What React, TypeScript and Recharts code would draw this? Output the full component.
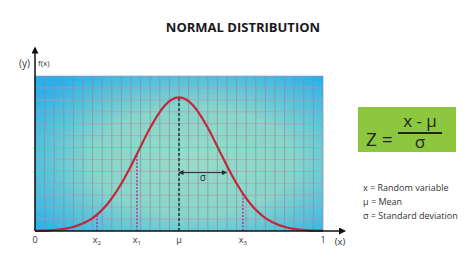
import React from 'react';
import {
  ComposedChart,
  Line,
  XAxis,
  YAxis,
  CartesianGrid,
  ReferenceLine,
  ReferenceDot,
} from 'recharts';

// bell curve (x from 0 to 1, peak height = 1)
const curveX = [
  0, 0.025, 0.05, 0.075, 0.1, 0.125, 0.15, 0.175, 0.2, 0.225, 0.25, 0.275, 0.3, 0.325,
  0.35, 0.375, 0.4, 0.425, 0.45, 0.475, 0.5, 0.525, 0.55, 0.575, 0.6, 0.625, 0.65,
  0.675, 0.7, 0.725, 0.75, 0.775, 0.8, 0.825, 0.85, 0.875, 0.9, 0.925, 0.95, 0.975, 1,
];
const curveY = [
  0.0015, 0.0029, 0.0053, 0.0093, 0.0159, 0.0263, 0.042, 0.065, 0.097, 0.141, 0.198,
  0.27, 0.355, 0.453, 0.559, 0.668, 0.772, 0.864, 0.937, 0.984, 1, 0.984, 0.937, 0.864,
  0.772, 0.668, 0.559, 0.453, 0.355, 0.27, 0.198, 0.141, 0.097, 0.065, 0.042, 0.0263,
  0.0159, 0.0093, 0.0053, 0.0029, 0.0015,
];

// x axis labels
const tickValues = [0, 0.215, 0.354, 0.5, 0.722, 1];
const tickNames = ['0', 'x', 'x', 'μ', 'x', '1'];
const tickSubs = ['', '2', '1', '', '3', ''];

// dashed drop lines for x2, x1, x3
const markerX = [0.215, 0.354, 0.722];
const markerY = [0.124, 0.57, 0.28];

// sigma span
const sigmaFrom = 0.5;
const sigmaTo = 0.665;
const sigmaLevel = 0.437;

const legendLines = ['x = Random variable', 'μ = Mean', 'σ = Standard deviation'];

const gridCols = 30;
const gridRows = 13;

const data = curveX.map((x, i) => ({ x, y: curveY[i] }));

const font = '"Open Sans", Arial, sans-serif';

function renderTick(props: any) {
  const { x, y, payload } = props;
  const i = tickValues.indexOf(payload.value);
  return (
    <g>
      <text x={x} y={y} dy={4} textAnchor="middle" fontSize={9} fill="#333" fontFamily={font}>
        {tickNames[i]}
        {tickSubs[i] ? (
          <tspan fontSize={6} dy={2}>
            {tickSubs[i]}
          </tspan>
        ) : null}
      </text>
      {payload.value === 1 ? (
        <text x={x + 17} y={y} dy={6} textAnchor="middle" fontSize={9.5} fill="#333" fontFamily={font}>
          (x)
        </text>
      ) : null}
    </g>
  );
}

export default function App() {
  return (
    <div style={{ position: 'fixed', left: 0, top: 0, width: 474, height: 264, background: '#fff', fontFamily: font }}>
      <div
        style={{
          position: 'absolute',
          left: 143,
          top: 19,
          width: 200,
          textAlign: 'center',
          fontSize: 13,
          fontWeight: 700,
          lineHeight: '16px',
          color: '#1a1a1a',
        }}
      >
        NORMAL DISTRIBUTION
      </div>
      <div style={{ position: 'absolute', left: 19, top: 56, fontSize: 10, color: '#333' }}>(y)</div>
      <div style={{ position: 'absolute', left: 38, top: 57, fontSize: 8, color: '#333' }}>f(x)</div>

      <ComposedChart
        width={474}
        height={264}
        data={data}
        margin={{ top: 76, left: 35, right: 151, bottom: 13 }}
      >
        <defs>
          <radialGradient id="bg" cx="0.55" cy="0.55" r="0.7">
            <stop offset="0" stopColor="#98dcc5" />
            <stop offset="0.5" stopColor="#86d6ca" />
            <stop offset="1" stopColor="#27b0ea" />
          </radialGradient>
          <marker
            id="arrowHead"
            viewBox="0 0 10 10"
            refX="8"
            refY="5"
            markerWidth="7"
            markerHeight="7"
            markerUnits="userSpaceOnUse"
            orient="auto-start-reverse"
          >
            <path d="M0,0 L10,5 L0,10 z" fill="#111" />
          </marker>
          <marker
            id="smallHead"
            viewBox="0 0 10 10"
            refX="9"
            refY="5"
            markerWidth="5"
            markerHeight="5"
            markerUnits="userSpaceOnUse"
            orient="auto-start-reverse"
          >
            <path d="M0,0 L10,5 L0,10 z" fill="#1d2f33" />
          </marker>
        </defs>
        <CartesianGrid
          vertical={false}
          fill="url(#bg)"
          fillOpacity={1}
          stroke="#c48fb4"
          strokeOpacity={0.65}
          horizontalCoordinatesGenerator={({ offset }: any) =>
            Array.from({ length: gridRows }, (_, i) => offset.top + (i * offset.height) / gridRows)
          }
        />
        <CartesianGrid
          horizontal={false}
          stroke="#8f86a8"
          strokeOpacity={0.65}
          verticalCoordinatesGenerator={({ offset }: any) =>
            Array.from({ length: gridCols + 1 }, (_, i) => offset.left + (i * offset.width) / gridCols)
          }
        />
        <XAxis
          type="number"
          dataKey="x"
          domain={[0, 1]}
          ticks={tickValues}
          interval={0}
          tick={renderTick}
          axisLine={false}
          tickLine={false}
          height={20}
        />
        <YAxis type="number" domain={[0, 1.16]} hide />

        <ReferenceLine
          segment={[{ x: 0.5, y: 0 }, { x: 0.5, y: 1 }]}
          stroke="#1d3a40"
          strokeWidth={1.5}
          strokeDasharray="3 2"
          ifOverflow="visible"
        />
        {markerX.map((mx, i) => (
          <ReferenceLine
            key={i}
            segment={[{ x: mx, y: 0 }, { x: mx, y: markerY[i] }]}
            stroke="#a53c9f"
            strokeWidth={1.5}
            strokeDasharray="2 1.5"
            ifOverflow="visible"
          />
        ))}
        <ReferenceLine
          segment={[{ x: sigmaFrom, y: sigmaLevel }, { x: sigmaTo, y: sigmaLevel }]}
          stroke="#1d2f33"
          strokeWidth={1}
          markerStart="url(#smallHead)"
          markerEnd="url(#smallHead)"
          ifOverflow="visible"
        />
        <ReferenceDot
          x={(sigmaFrom + sigmaTo) / 2}
          y={sigmaLevel}
          r={0}
          stroke="none"
          label={{ value: 'σ', position: 'bottom', offset: 1, fontSize: 10, fill: '#1d2f33', fontFamily: font }}
          ifOverflow="visible"
        />

        <Line
          type="monotone"
          dataKey="y"
          stroke="#c4273b"
          strokeWidth={2.2}
          dot={false}
          isAnimationActive={false}
        />

        <ReferenceLine
          segment={[{ x: 0, y: 0 }, { x: 0, y: 1.37 }]}
          stroke="#111"
          strokeWidth={1.5}
          markerEnd="url(#arrowHead)"
          ifOverflow="visible"
        />
        <ReferenceLine
          segment={[{ x: 0, y: 0 }, { x: 1.075, y: 0 }]}
          stroke="#111"
          strokeWidth={1.5}
          markerEnd="url(#arrowHead)"
          ifOverflow="visible"
        />
      </ComposedChart>

      <div
        style={{
          position: 'absolute',
          left: 358,
          top: 107,
          width: 98,
          height: 45,
          background: '#8dc63f',
          color: '#1e261b',
        }}
      >
        <div style={{ position: 'absolute', left: 8, top: 22, fontSize: 19, lineHeight: '20px' }}>Z =</div>
        <div
          style={{
            position: 'absolute',
            left: 40,
            top: 5,
            width: 44,
            textAlign: 'center',
            fontSize: 17,
            lineHeight: '18px',
          }}
        >
          x - μ
        </div>
        <div style={{ position: 'absolute', left: 40, top: 25, width: 44, height: 1.5, background: '#1e261b' }} />
        <div
          style={{
            position: 'absolute',
            left: 40,
            top: 26,
            width: 44,
            textAlign: 'center',
            fontSize: 17,
            lineHeight: '18px',
          }}
        >
          σ
        </div>
      </div>

      {legendLines.map((t, i) => (
        <div
          key={t}
          style={{
            position: 'absolute',
            left: 363,
            top: 182 + i * 14,
            fontSize: 9,
            lineHeight: '12px',
            color: '#333',
            whiteSpace: 'nowrap',
          }}
        >
          {t}
        </div>
      ))}
    </div>
  );
}
